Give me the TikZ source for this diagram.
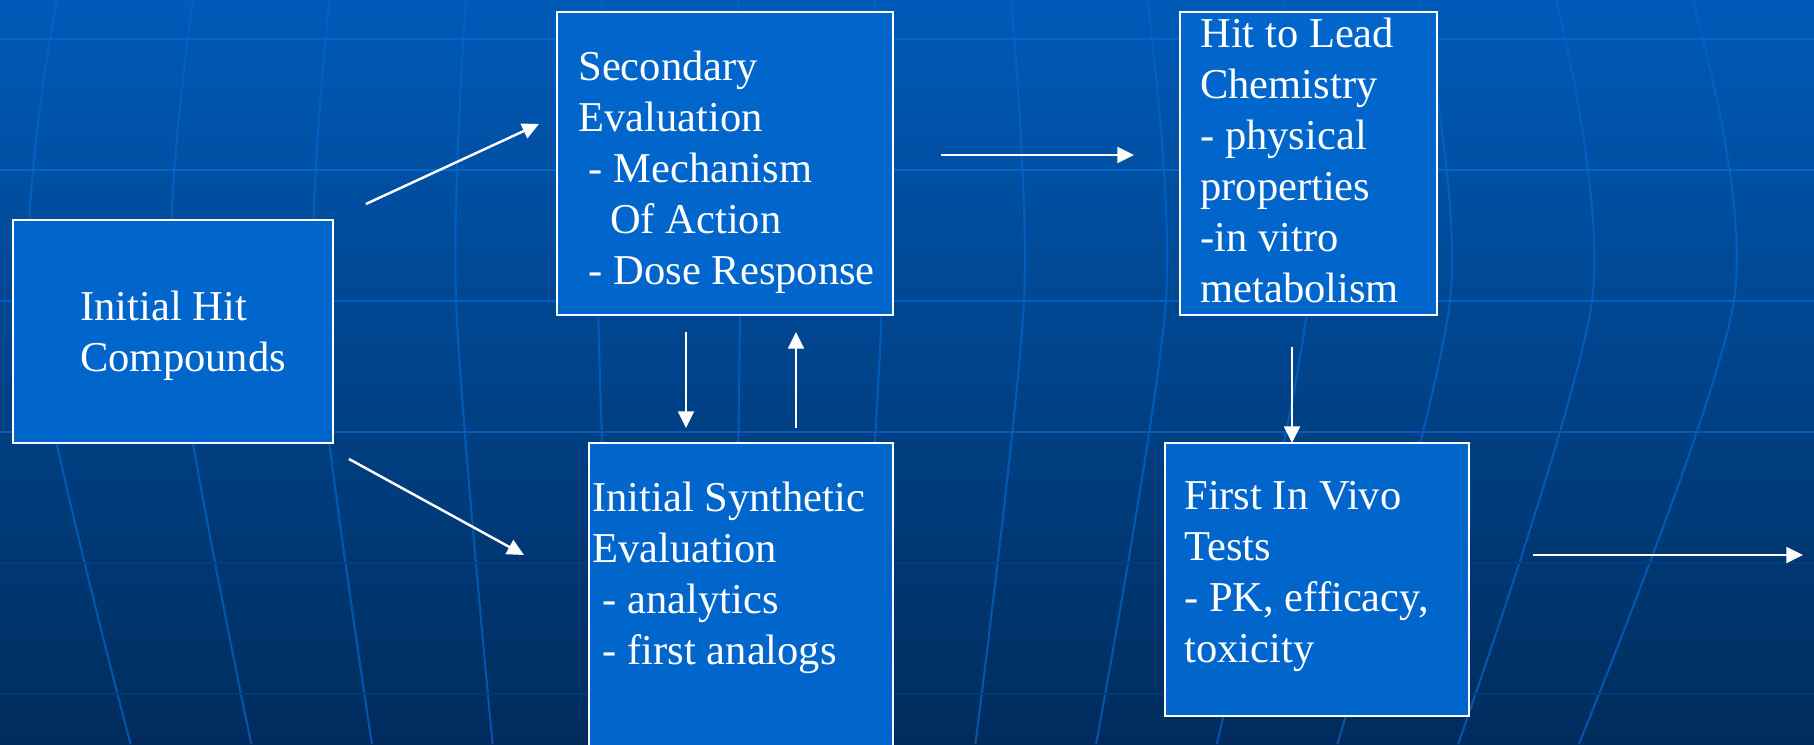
\documentclass[tikz,border=0pt]{standalone}
\usepackage{fontspec}
\setmainfont{Liberation Serif}
\usepackage{tikz}
\usetikzlibrary{arrows.meta,positioning,calc}
\definecolor{bgTop}{RGB}{0,90,184}
\definecolor{bgMid}{RGB}{0,72,148}
\definecolor{bgBottom}{RGB}{0,44,92}
\definecolor{boxBlue}{RGB}{0,102,204}
\definecolor{gridBlue}{RGB}{0,102,204}

\begin{document}
\begin{tikzpicture}[
  x=0.02cm, y=-0.02cm,
  every node/.style={font=\fontsize{24.2}{29}\selectfont, text=white},
  stage/.style={draw=white, line width=1.2pt, fill=boxBlue, anchor=north west,
                inner sep=0pt, outer sep=0pt},
  boxtext/.style={anchor=north west, align=left, inner sep=0pt},
  flow/.style={draw=white, line width=1.4pt, -{Triangle[length=9.5pt,width=9pt]}},
  gridline/.style={line width=1.3pt},
  meridian/.style={line width=1.2pt, draw=gridBlue, opacity=0.7},
]
\useasboundingbox (0,0) rectangle (1814,744);
\clip (0,0) rectangle (1814,744);

% background: gradient, globe lines
\shade[top color=bgTop, middle color=bgMid, bottom color=bgBottom] (0,0) rectangle (1814,744);
\foreach \d in {-670,-528,...,1034}
  \draw[meridian] plot[smooth] coordinates {({700+0.96*\d},0) ({700+\d},300) ({700+0.85*\d},744)};
\foreach \y/\c in {39/gridBlue, 170/gridBlue, 301/gridBlue!95!black, 432/gridBlue!90!black,
                   563/gridBlue!62!black, 694/gridBlue!57!black}
  \draw[gridline, \c] (0,\y) -- (1814,\y);

% stages
\node[stage, minimum width=6.4cm, minimum height=4.46cm] (initial) at (13,220) {};
\node[stage, minimum width=6.72cm, minimum height=6.06cm] (secondary) at (557,12) {};
\node[stage, minimum width=6.08cm, minimum height=6.6cm] (synthetic) at (589,443) {};
\node[stage, minimum width=5.14cm, minimum height=6.06cm] (hitlead) at (1180,12) {};
\node[stage, minimum width=6.08cm, minimum height=5.46cm] (invivo) at (1165,443) {};

\node[boxtext] (initialtxt) at (80,291) {Initial Hit\\Compounds};
\node[boxtext] (secondarytxt) at (578,51) {Secondary\\Evaluation\\\hspace*{0.25em}- Mechanism\\\hspace*{0.75em}Of Action\\\hspace*{0.25em}- Dose Response};
\node[boxtext] (synthetictxt) at (592,482) {Initial Synthetic\\Evaluation\\\hspace*{0.25em}- analytics\\\hspace*{0.25em}- first analogs};
\node[boxtext] (hitleadtxt) at (1200,18) {Hit to Lead\\Chemistry\\- physical\\properties\\-in vitro\\metabolism};
\node[boxtext] (invivotxt) at (1184,481) {First In Vivo\\Tests\\- PK, efficacy,\\toxicity};

% arrows
\draw[flow] ([shift={(33,-16)}]initial.north east) -- ([shift={(-18,112)}]secondary.north west);
\draw[flow] ([shift={(16,16)}]initial.south east) -- ([shift={(-65,112)}]synthetic.north west);
\draw[flow] ([shift={(129,17)}]secondary.south west) -- ([shift={(97,-15)}]synthetic.north west);
\draw[flow] ([shift={(207,-15)}]synthetic.north west) -- ([shift={(239,17)}]secondary.south west);
\draw[flow] ([shift={(48,143)}]secondary.north east) -- ([shift={(-46,143)}]hitlead.north west);
\draw[flow] ([shift={(112,32)}]hitlead.south west) -- ([shift={(127,0)}]invivo.north west);
\coordinate (exit) at (1803,555);
\draw[flow] ([shift={(64,112)}]invivo.north east) -- (exit);

\end{tikzpicture}
\end{document}
